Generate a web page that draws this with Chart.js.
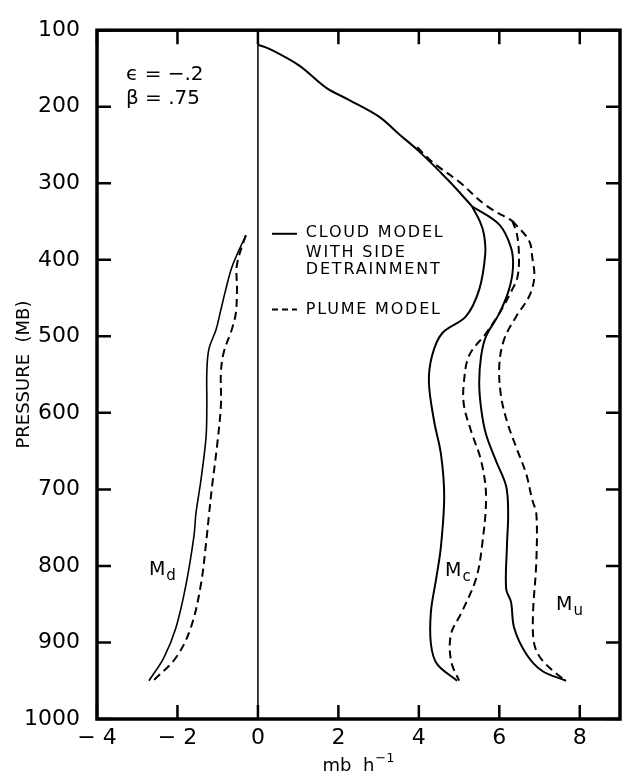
<!DOCTYPE html>
<html>
<head>
<meta charset="utf-8">
<script src="https://cdn.jsdelivr.net/npm/chart.js@4/dist/chart.umd.min.js"></script>
<style>
  body { margin: 0; background: #fff; }
  canvas { display: block; }
</style>
</head>
<body>
<canvas id="fluxChart" width="623" height="777"></canvas>
<script>
// values: pressure (mb) and mass flux (mb h-1)

// upper part shared by both solid curves
const upperSolidP = [119, 124, 146, 175, 191, 213, 236, 258, 297, 330];
const upperSolidX = [0, 0.27, 1.02, 1.69, 2.26, 3.01, 3.51, 4.0, 4.75, 5.32];

// Mc, cloud model (solid)
const mcSolidP = [330, 350, 367, 393, 439, 474, 496, 525, 560, 611, 654, 709, 774, 817, 860, 902, 928, 950];
const mcSolidX = [5.32, 5.52, 5.62, 5.65, 5.50, 5.17, 4.58, 4.33, 4.25, 4.38, 4.55, 4.63, 4.55, 4.43, 4.30, 4.30, 4.45, 4.95];

// Mu, cloud model (solid)
const muSolidP = [330, 354, 384, 410, 439, 470, 500, 525, 560, 595, 628, 663, 696, 731, 774, 830, 847, 881, 915, 937, 950];
const muSolidX = [5.32, 6.0, 6.29, 6.34, 6.24, 6.0, 5.67, 5.55, 5.50, 5.55, 5.67, 5.92, 6.17, 6.22, 6.19, 6.17, 6.29, 6.37, 6.67, 7.06, 7.66];

// upper part shared by both plume curves
const upperDashP = [253, 272, 298, 329, 349];
const upperDashX = [3.96, 4.33, 5.0, 5.67, 6.32];

// Mc, plume model (dashed)
const mcDashP = [349, 367, 397, 423, 439, 470, 496, 525, 560, 590, 624, 663, 709, 774, 817, 860, 889, 924, 950];
const mcDashX = [6.32, 6.44, 6.49, 6.45, 6.32, 6.0, 5.67, 5.25, 5.12, 5.12, 5.30, 5.55, 5.67, 5.57, 5.42, 5.07, 4.80, 4.80, 5.0];

// Mu, plume model (dashed)
const muDashP = [349, 375, 397, 423, 448, 474, 504, 538, 577, 611, 645, 680, 714, 731, 795, 860, 900, 920, 940, 950];
const muDashX = [6.32, 6.74, 6.82, 6.87, 6.74, 6.42, 6.12, 6.0, 6.04, 6.19, 6.42, 6.67, 6.82, 6.92, 6.92, 6.84, 6.86, 7.02, 7.4, 7.66];

// Md, cloud model (solid)
const mdSolidP = [368, 385, 410, 439, 465, 491, 517, 547, 590, 632, 689, 731, 761, 825, 881, 920, 950];
const mdSolidX = [-0.3, -0.45, -0.65, -0.80, -0.92, -1.04, -1.22, -1.27, -1.27, -1.29, -1.42, -1.54, -1.59, -1.79, -2.04, -2.34, -2.71];

// Md, plume model (dashed)
const mdDashP = [368, 406, 439, 470, 491, 521, 547, 590, 645, 696, 735, 761, 825, 881, 920, 950];
const mdDashX = [-0.3, -0.52, -0.52, -0.55, -0.65, -0.85, -0.92, -0.92, -1.02, -1.14, -1.22, -1.27, -1.42, -1.67, -2.04, -2.6];

const xTickValues = [-4, -2, 0, 2, 4, 6, 8];
const yTickValues = [100, 200, 300, 400, 500, 600, 700, 800, 900, 1000];

const FONT = "'DejaVu Sans', sans-serif";
const DASH = [8, 5];

function toPoints(xs, ps) {
    return xs.map((x, i) => ({ x: x, y: ps[i] }));
}

function curve(xs, ps, dashed, width) {
    return {
        data: toPoints(xs, ps),
        showLine: true,
        borderColor: '#000',
        borderWidth: width || 2,
        borderDash: dashed ? DASH : [],
        pointRadius: 0,
        tension: 0.35,
        fill: false
    };
}

// frame, inward ticks, zero line and all the text inside the plot
const figureDecor = {
    id: 'figureDecor',
    afterDatasetsDraw(chart) {
        const { ctx, chartArea: a, scales } = chart;
        const sx = scales.x, sy = scales.y;
        ctx.save();
        ctx.strokeStyle = '#000';
        ctx.fillStyle = '#000';

        // zero line
        ctx.lineWidth = 1.5;
        ctx.beginPath();
        ctx.moveTo(sx.getPixelForValue(0), a.top);
        ctx.lineTo(sx.getPixelForValue(0), a.bottom);
        ctx.stroke();

        // inward ticks on all four sides
        const len = 14;
        ctx.lineWidth = 2.5;
        ctx.beginPath();
        xTickValues.forEach(v => {
            const px = sx.getPixelForValue(v);
            ctx.moveTo(px, a.bottom); ctx.lineTo(px, a.bottom - len);
            ctx.moveTo(px, a.top); ctx.lineTo(px, a.top + len);
        });
        yTickValues.forEach(v => {
            const py = sy.getPixelForValue(v);
            ctx.moveTo(a.left, py); ctx.lineTo(a.left + len, py);
            ctx.moveTo(a.right, py); ctx.lineTo(a.right - len, py);
        });
        ctx.stroke();

        // frame
        ctx.lineWidth = 3.5;
        ctx.strokeRect(a.left, a.top, a.right - a.left, a.bottom - a.top);

        const text = (str, xv, pv, size, align, spacing) => {
            ctx.font = size + 'px ' + FONT;
            ctx.textAlign = align || 'left';
            ctx.textBaseline = 'middle';
            ctx.letterSpacing = (spacing || 0) + 'px';
            ctx.fillText(str, sx.getPixelForValue(xv), sy.getPixelForValue(pv));
        };

        // parameters
        text('\u03F5 = \u2212.2', -3.28, 158, 20);
        text('\u03B2 = .75', -3.28, 189, 20);

        // legend
        ctx.lineWidth = 2;
        ctx.beginPath();
        ctx.moveTo(sx.getPixelForValue(0.35), sy.getPixelForValue(366));
        ctx.lineTo(sx.getPixelForValue(0.97), sy.getPixelForValue(366));
        ctx.stroke();
        ctx.setLineDash([6, 4]);
        ctx.beginPath();
        ctx.moveTo(sx.getPixelForValue(0.35), sy.getPixelForValue(465));
        ctx.lineTo(sx.getPixelForValue(0.97), sy.getPixelForValue(465));
        ctx.stroke();
        ctx.setLineDash([]);
        text('CLOUD MODEL', 1.19, 365, 16, 'left', 1.8);
        text('WITH SIDE', 1.19, 391, 16, 'left', 1.8);
        text('DETRAINMENT', 1.19, 413, 16, 'left', 1.8);
        text('PLUME MODEL', 1.19, 465, 16, 'left', 1.8);

        // curve labels with subscripts
        const sub = (sym, s, xv, pv) => {
            ctx.letterSpacing = '0px';
            ctx.textAlign = 'left';
            ctx.textBaseline = 'alphabetic';
            const px = sx.getPixelForValue(xv), py = sy.getPixelForValue(pv);
            ctx.font = '19px ' + FONT;
            ctx.fillText(sym, px, py);
            const w = ctx.measureText(sym).width;
            ctx.font = '15px ' + FONT;
            ctx.fillText(s, px + w + 1, py + 5);
        };
        sub('M', 'd', -2.71, 812);
        sub('M', 'c', 4.65, 813);
        sub('M', 'u', 7.41, 857);

        // x axis title with superscript
        ctx.letterSpacing = '0px';
        ctx.textBaseline = 'alphabetic';
        ctx.font = '18px ' + FONT;
        const base = 'mb  h';
        const wBase = ctx.measureText(base).width;
        ctx.font = '13px ' + FONT;
        const wSup = ctx.measureText('\u22121').width;
        const cx = (a.left + a.right) / 2;
        const startX = cx - (wBase + wSup + 1) / 2;
        const baseY = chart.height - 6;
        ctx.textAlign = 'left';
        ctx.font = '18px ' + FONT;
        ctx.fillText(base, startX, baseY);
        ctx.font = '13px ' + FONT;
        ctx.fillText('\u22121', startX + wBase + 1, baseY - 9);

        ctx.restore();
    }
};

new Chart(document.getElementById('fluxChart'), {
    type: 'scatter',
    data: {
        datasets: [
            curve(upperSolidX, upperSolidP, false),
            curve(mcSolidX, mcSolidP, false),
            curve(muSolidX, muSolidP, false),
            curve(upperDashX, upperDashP, true),
            curve(mcDashX, mcDashP, true),
            curve(muDashX, muDashP, true),
            curve(mdSolidX, mdSolidP, false, 1.6),
            curve(mdDashX, mdDashP, true, 2)
        ]
    },
    options: {
        responsive: false,
        animation: false,
        layout: { padding: { top: 18, right: 3, left: 0, bottom: 0 } },
        plugins: { legend: { display: false }, tooltip: { enabled: false } },
        scales: {
            x: {
                type: 'linear',
                min: -4,
                max: 9,
                afterBuildTicks: s => { s.ticks = xTickValues.map(v => ({ value: v })); },
                afterFit: s => { s.height = 58; },
                grid: { display: false, drawTicks: false },
                border: { display: false },
                ticks: {
                    padding: 6,
                    color: '#000',
                    font: { family: FONT, size: 22 },
                    callback: v => String(v).replace('-', '\u2212 ')
                }
            },
            y: {
                type: 'linear',
                reverse: true,
                min: 100,
                max: 1000,
                afterBuildTicks: s => { s.ticks = yTickValues.map(v => ({ value: v })); },
                afterFit: s => { s.width = 97; },
                grid: { display: false, drawTicks: false },
                border: { display: false },
                ticks: {
                    padding: 17,
                    color: '#000',
                    font: { family: FONT, size: 22 },
                    callback: v => String(v)
                },
                title: {
                    display: true,
                    text: 'PRESSURE  (MB)',
                    color: '#000',
                    font: { family: FONT, size: 18 },
                    padding: { top: 14, bottom: 0 }
                }
            }
        }
    },
    plugins: [figureDecor]
});
</script>
</body>
</html>
